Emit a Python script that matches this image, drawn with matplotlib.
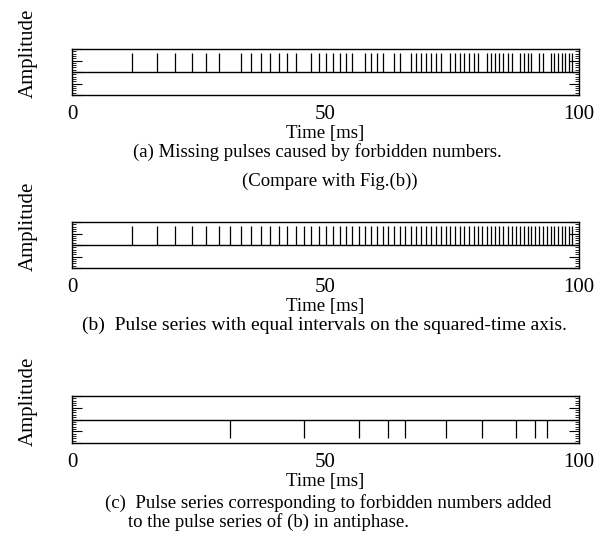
import matplotlib
matplotlib.use('Agg')
import matplotlib.pyplot as plt
from matplotlib.ticker import MultipleLocator

plt.rcParams['font.family'] = ['Liberation Serif', 'DejaVu Serif']

# pulse times [ms] on the squared-time grid
pulse_times = [11.8, 16.7, 20.4, 23.6, 26.4, 28.9, 31.2, 33.4, 35.4, 37.3,
               39.1, 40.9, 42.5, 44.2, 45.7, 47.2, 48.7, 50.1, 51.4, 52.8,
               54.1, 55.3, 56.6, 57.8, 59.0, 60.2, 61.3, 62.4, 63.5, 64.6,
               65.7, 66.8, 67.8, 68.8, 69.8, 70.8, 71.8, 72.7, 73.7, 74.6,
               75.6, 76.5, 77.4, 78.3, 79.2, 80.0, 80.9, 81.8, 82.6, 83.4,
               84.3, 85.1, 85.9, 86.7, 87.5, 88.3, 89.1, 89.9, 90.6, 91.4,
               92.2, 92.9, 93.7, 94.4, 95.1, 95.9, 96.6, 97.3, 98.0, 98.7]
# pulses of the forbidden numbers (panel c)
forbidden_times = [31.2, 45.7, 56.6, 62.4, 65.7, 73.7, 80.9, 87.5, 91.4, 93.7]
missing_times = [t for t in pulse_times if t not in forbidden_times]

up_height = 0.82
down_height = -0.78
xticks = [0, 50, 100]

W, H = 616, 542
# (box top px, box bottom px, pulses, pulse height)
panels = [
    (49, 95, missing_times, up_height),
    (222, 268, pulse_times, up_height),
    (396, 443, forbidden_times, down_height),
]

fig = plt.figure(figsize=(W / 100, H / 100), dpi=100)
for top, bot, times, h in panels:
    ax = fig.add_axes([72 / W, 1 - bot / H, 507 / W, (bot - top) / H])
    ax.vlines(times, 0, h, color='black', lw=0.9)
    ax.axhline(0, color='black', lw=1.0)
    ax.set_xlim(0, 100)
    ax.set_ylim(-1, 1)
    ax.set_xticks(xticks)
    ax.tick_params(axis='x', length=0, labelsize=15, pad=7)
    ax.yaxis.set_major_locator(MultipleLocator(0.5))
    ax.yaxis.set_minor_locator(MultipleLocator(0.1))
    ax.tick_params(axis='y', which='both', direction='in', left=True, right=True,
                   labelleft=False)
    ax.tick_params(axis='y', which='major', length=7, width=0.8)
    ax.tick_params(axis='y', which='minor', length=3, width=0.6)
    for s in ax.spines.values():
        s.set_linewidth(1.0)
    ax.set_xlabel('Time [ms]', fontsize=13.5, labelpad=1)
    fig.text(28 / W, 1 - (bot + 3) / H, 'Amplitude', rotation=90,
             ha='center', va='bottom', fontsize=15)

fig.text(0.516, 1 - 152 / H, '(a) Missing pulses caused by forbidden numbers.',
         ha='center', va='center', fontsize=13.5)
fig.text(0.535, 1 - 181 / H, '(Compare with Fig.(b))',
         ha='center', va='center', fontsize=13.5)
fig.text(0.527, 1 - 325 / H, '(b)  Pulse series with equal intervals on the squared-time axis.',
         ha='center', va='center', fontsize=14)
fig.text(105 / W, 1 - 503 / H, '(c)  Pulse series corresponding to forbidden numbers added',
         ha='left', va='center', fontsize=13.5)
fig.text(128 / W, 1 - 522 / H, 'to the pulse series of (b) in antiphase.',
         ha='left', va='center', fontsize=13.5)

plt.savefig('out.png', dpi=100)
plt.close()
